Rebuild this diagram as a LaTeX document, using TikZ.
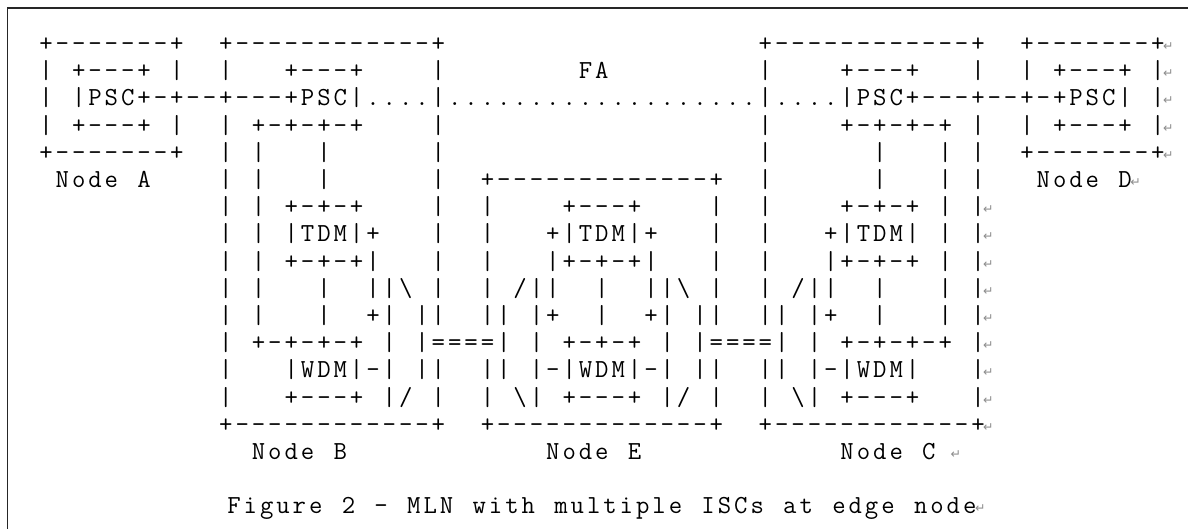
\documentclass[tikz,border=0pt]{standalone}
\usepackage{fontspec}
\newfontfamily\arrowfont{DejaVu Sans}
\tikzset{
  ch/.style={anchor=base, inner sep=0pt, outer sep=0pt, font=\ttfamily\fontsize{26}{26}\selectfont, text=black},
  ret/.style={anchor=base, inner sep=0pt, outer sep=0pt, font=\arrowfont\fontsize{12.5}{12.5}\selectfont, text=black!45},
  frameline/.style={line width=1.6pt, draw=black!85}
}
\newcommand\AscNode[3]{\node[ch] at (#1pt,#2pt) {#3};}
\newcommand\Ret[2]{\node[ret] at (46pt+16.35pt*#2+10.5pt, 478.5pt-27.2pt*#1) {↵};}
\ExplSyntaxOn
\fp_new:N \l_asc_col_fp
\cs_new_protected:Npn \asc_node:nnn #1#2#3
  {
    \use:x
      {
        \exp_not:N \AscNode
          { \fp_eval:n { 46 + 16.35 * (#2) } }
          { \fp_eval:n { 477.5 - 27.2 * (#1) } }
      }
      {#3}
  }
\cs_new_protected:Npn \asc_put:nn #1#2
  {
    \str_if_eq:nnF {#2} {~}
      {
        \str_if_eq:nnTF {#2} {!}
          { \asc_node:nnn {#1} { \fp_use:N \l_asc_col_fp } { \textbackslash } }
          { \asc_node:nnn {#1} { \fp_use:N \l_asc_col_fp } {#2} }
      }
    \fp_add:Nn \l_asc_col_fp {1}
  }
\NewDocumentCommand \Seg { m m m }
  {
    \fp_set:Nn \l_asc_col_fp {#2}
    \str_map_inline:nn {#3} { \asc_put:nn {#1} {##1} }
  }
\ExplSyntaxOff
\begin{document}
\begin{tikzpicture}
\path[use as bounding box] (0,0) rectangle (1188pt,529pt);
\coordinate (fb) at (7.5pt,0pt);
\coordinate (fc) at (7.5pt,520.7pt);
\coordinate (fr) at (1188pt,520.7pt);
\draw[frameline] (fb) -- (fc) -- (fr);
% row 0
\Seg{0}{0}{+-------+}
\Seg{0}{11}{+------------+}
\Seg{0}{44}{+------------+}
\Seg{0}{60}{+-------+}
\Ret{0}{68}
% row 1
\Seg{1}{0}{| +---+ |}
\Seg{1}{11}{|}
\Seg{1}{15}{+---+}
\Seg{1}{24}{|}
\Seg{1}{33}{FA}
\Seg{1}{44}{|}
\Seg{1}{49}{+---+}
\Seg{1}{57}{|}
\Seg{1}{60}{| +---+ |}
\Ret{1}{68}
% row 2
\Seg{2}{0}{| |PSC+-+--+---+PSC|....|...................|....|PSC+---+--+-+PSC| |}
\Ret{2}{68}
% row 3
\Seg{3}{0}{| +---+ |}
\Seg{3}{11}{| +-+-+-+}
\Seg{3}{24}{|}
\Seg{3}{44}{|}
\Seg{3}{49}{+-+-+-+ |}
\Seg{3}{60}{| +---+ |}
\Ret{3}{68}
% row 4
\Seg{4}{0}{+-------+}
\Seg{4}{11}{| |}
\Seg{4}{17}{|}
\Seg{4}{24}{|}
\Seg{4}{44}{|}
\Seg{4}{51}{|}
\Seg{4}{55}{| |}
\Seg{4}{60}{+-------+}
\Ret{4}{68}
% row 5
\Seg{5}{1}{Node A}
\Seg{5}{11}{| |}
\Seg{5}{17}{|}
\Seg{5}{24}{|}
\Seg{5}{27}{+-------------+}
\Seg{5}{44}{|}
\Seg{5}{51}{|}
\Seg{5}{55}{| |}
\Seg{5}{61}{Node D}
\Ret{5}{66}
% row 6
\Seg{6}{11}{| |}
\Seg{6}{15}{+-+-+}
\Seg{6}{24}{|}
\Seg{6}{27}{|}
\Seg{6}{32}{+---+}
\Seg{6}{41}{|}
\Seg{6}{44}{|}
\Seg{6}{49}{+-+-+ | |}
\Ret{6}{57}
% row 7
\Seg{7}{11}{| |}
\Seg{7}{15}{|TDM|+}
\Seg{7}{24}{|}
\Seg{7}{27}{|}
\Seg{7}{31}{+|TDM|+}
\Seg{7}{41}{|}
\Seg{7}{44}{|}
\Seg{7}{48}{+|TDM| | |}
\Ret{7}{57}
% row 8
\Seg{8}{11}{| |}
\Seg{8}{15}{+-+-+|}
\Seg{8}{24}{|}
\Seg{8}{27}{|}
\Seg{8}{31}{|+-+-+|}
\Seg{8}{41}{|}
\Seg{8}{44}{|}
\Seg{8}{48}{|+-+-+ | |}
\Ret{8}{57}
% row 9
\Seg{9}{11}{| |}
\Seg{9}{17}{|}
\Seg{9}{20}{||! |}
\Seg{9}{27}{| /||}
\Seg{9}{34}{|}
\Seg{9}{37}{||! |}
\Seg{9}{44}{| /||}
\Seg{9}{51}{|}
\Seg{9}{55}{| |}
\Ret{9}{57}
% row 10
\Seg{10}{11}{| |}
\Seg{10}{17}{|}
\Seg{10}{20}{+| ||}
\Seg{10}{27}{|| |+}
\Seg{10}{34}{|}
\Seg{10}{37}{+| ||}
\Seg{10}{44}{|| |+}
\Seg{10}{51}{|}
\Seg{10}{55}{| |}
\Ret{10}{57}
% row 11
\Seg{11}{11}{| +-+-+-+ | |====| | +-+-+ | |====| | +-+-+-+ |}
\Ret{11}{57}
% row 12
\Seg{12}{11}{|}
\Seg{12}{15}{|WDM|-| ||}
\Seg{12}{27}{|| |-|WDM|-| ||}
\Seg{12}{44}{|| |-|WDM|}
\Seg{12}{57}{|}
\Ret{12}{57}
% row 13
\Seg{13}{11}{|}
\Seg{13}{15}{+---+ |/ |}
\Seg{13}{27}{| !| +---+ |/ |}
\Seg{13}{44}{| !| +---+}
\Seg{13}{57}{|}
\Ret{13}{57}
% row 14
\Seg{14}{11}{+------------+}
\Seg{14}{27}{+-------------+}
\Seg{14}{44}{+------------+}
\Ret{14}{57}
% row 15
\Seg{15}{13}{Node B}
\Seg{15}{31}{Node E}
\Seg{15}{49}{Node C}
\Ret{15}{55}
% caption
\Seg{17}{11.5}{Figure 2 - MLN with multiple ISCs at edge node}
\Ret{17}{56.5}
\end{tikzpicture}
\end{document}
